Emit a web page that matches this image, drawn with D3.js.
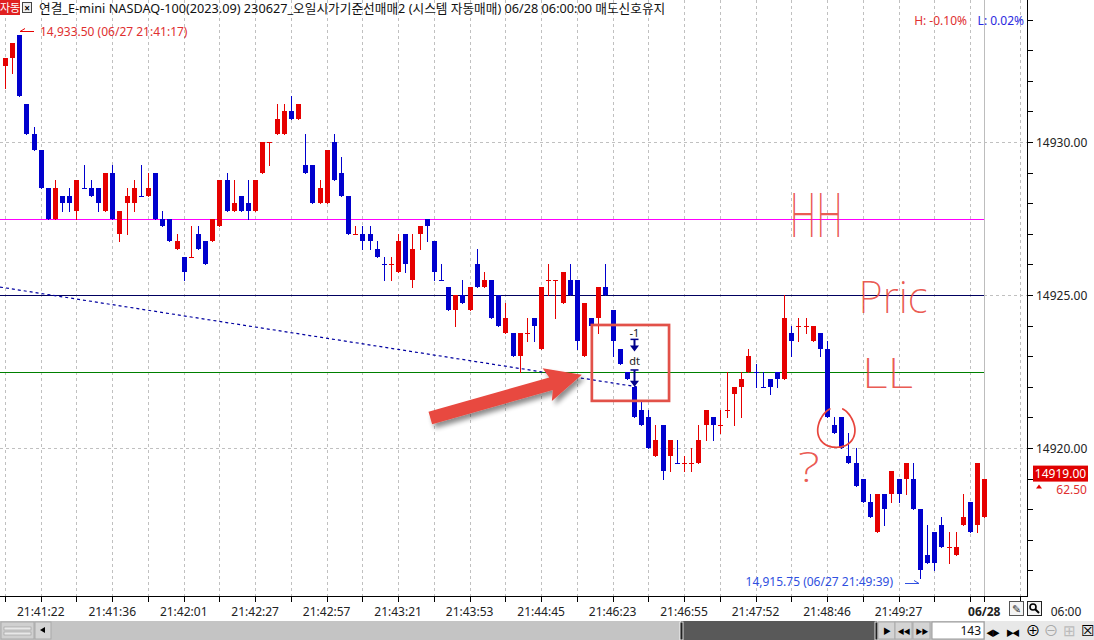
<!DOCTYPE html>
<html><head><meta charset="utf-8">
<script src="https://cdn.jsdelivr.net/npm/d3@7"></script>
<style>
body{margin:0;background:#fff}
svg{display:block}
text{font-family:"Noto Sans","Noto Sans CJK KR",sans-serif}
</style>
</head><body>
<svg id="c" width="1094" height="640"></svg>
<script>
// ---------------- DATA ----------------
const opens = [14932.5,14932.75,14933.5,14931.25,14930.25,14929.75,14928.5,14927.5,14928.25,14928.25,
14927.75,14928.5,14928.5,14928.5,14927.75,14929.0,14927.0,14928.0,14928.0,14928.25,
14928.25,14929.0,14927.5,14927.5,14926.5,14926.25,14926.25,14927.0,14926.75,14926.75,
14927.25,14928.75,14927.75,14928.25,14928.0,14927.75,14929.0,14930.0,14930.25,14930.25,
14931.0,14930.75,14929.25,14929.25,14928.0,14928.0,14930.0,14929.0,14928.25,14927.0,
14927.0,14927.0,14926.5,14926.0,14926.0,14925.75,14927.0,14925.5,14927.0,14927.5,
14926.75,14925.5,14925.25,14924.5,14925.0,14924.5,14926.0,14925.25,14925.5,14925.0,
14923.75,14923.75,14923.0,14923.75,14924.25,14923.25,14925.5,14925.5,14924.75,14925.5,
14925.5,14923.0,14924.25,14924.25,14925.25,14924.5,14923.25,14922.5,14922.0,14921.25,
14921.0,14919.75,14920.75,14919.75,14919.5,14919.5,14919.5,14919.5,14920.75,14921.0,
14920.75,14921.25,14921.75,14922.0,14922.5,14922.5,14922.0,14922.25,14922.5,14922.25,
14923.75,14924.0,14924.0,14923.5,14923.75,14923.25,14920.75,14921.0,14919.75,14919.5,
14919.0,14918.25,14917.25,14918.5,14918.5,14919.0,14919.0,14919.0,14918.0,14916.5,
14917.25,14917.5,14916.75,14916.5,14917.5,14918.25,14917.5,14917.75];
const highs = [14932.75,14933.25,14933.5,14931.25,14930.5,14929.75,14928.5,14928.75,14928.25,14928.5,
14928.75,14929.25,14928.75,14928.5,14929.0,14929.25,14927.75,14928.5,14928.75,14929.25,
14929.0,14929.0,14927.75,14927.5,14927.0,14926.25,14927.25,14927.25,14926.75,14927.5,
14928.75,14929.0,14928.75,14928.25,14928.75,14928.75,14930.0,14930.0,14931.25,14931.25,
14931.5,14931.25,14930.25,14929.25,14928.75,14929.75,14930.25,14929.5,14928.25,14927.25,
14927.25,14927.25,14926.75,14926.25,14926.25,14927.0,14927.0,14927.0,14927.25,14927.5,
14926.75,14926.0,14925.25,14925.0,14925.5,14925.25,14926.5,14925.75,14925.5,14925.0,
14924.75,14923.75,14923.75,14924.25,14924.25,14925.25,14926.0,14925.5,14925.75,14926.0,
14925.5,14924.75,14924.25,14925.25,14926.0,14924.5,14923.25,14922.5,14922.0,14921.5,
14921.25,14920.75,14920.75,14920.25,14920.25,14919.75,14920.0,14920.75,14921.25,14921.0,
14921.25,14922.5,14922.0,14922.5,14923.25,14922.75,14922.5,14922.25,14922.5,14925.0,
14924.0,14924.25,14924.25,14924.0,14923.75,14923.5,14921.0,14921.0,14920.5,14920.0,
14919.0,14918.5,14918.5,14918.5,14919.25,14919.0,14919.5,14919.5,14918.0,14917.5,
14917.25,14917.75,14917.25,14917.25,14918.5,14918.25,14919.5,14919.0];
const lows = [14931.75,14932.25,14931.5,14930.25,14929.75,14928.5,14927.5,14927.5,14927.75,14927.75,
14927.5,14928.5,14928.25,14927.75,14927.75,14927.5,14926.75,14927.0,14927.75,14928.25,
14928.25,14927.5,14927.25,14926.75,14926.5,14925.5,14926.25,14926.5,14926.0,14926.75,
14927.25,14927.75,14927.75,14927.75,14927.5,14927.75,14929.0,14929.25,14930.25,14930.25,
14930.75,14930.75,14929.0,14928.0,14928.0,14928.0,14928.75,14928.25,14927.0,14927.0,
14926.5,14926.5,14926.25,14925.5,14925.5,14925.75,14925.75,14925.25,14926.5,14926.75,
14925.5,14925.5,14924.5,14924.0,14924.75,14924.5,14925.25,14925.25,14924.25,14924.0,
14923.75,14923.0,14922.5,14923.5,14923.5,14923.25,14925.0,14924.25,14924.75,14925.0,
14923.25,14923.0,14924.0,14923.75,14925.0,14923.0,14922.75,14922.25,14921.0,14920.75,
14920.0,14919.75,14919.0,14919.25,14919.5,14919.25,14919.25,14919.5,14920.25,14920.25,
14920.5,14921.0,14920.75,14921.0,14922.5,14922.0,14922.0,14921.75,14922.0,14922.25,
14923.0,14923.5,14923.75,14923.5,14923.0,14921.0,14920.5,14920.0,14919.5,14918.75,
14918.25,14917.75,14917.25,14917.5,14918.25,14918.25,14918.5,14918.0,14915.75,14916.25,
14916.0,14916.75,14916.25,14916.5,14917.5,14917.25,14917.25,14917.75];
const closes = [14932.75,14933.25,14931.5,14930.25,14929.75,14928.5,14927.5,14928.5,14928.0,14928.0,
14928.75,14928.5,14928.25,14928.0,14929.0,14927.5,14927.75,14928.25,14928.5,14928.25,
14928.5,14927.5,14927.25,14926.75,14926.75,14925.75,14926.25,14926.5,14926.0,14927.5,
14928.75,14927.75,14928.0,14927.75,14927.75,14928.75,14930.0,14930.0,14930.75,14931.0,
14930.75,14931.25,14929.0,14928.0,14928.5,14929.75,14928.75,14928.25,14927.0,14927.0,
14926.75,14926.75,14926.25,14926.0,14926.0,14926.75,14926.0,14926.5,14927.25,14927.25,
14925.75,14925.5,14924.5,14925.0,14924.75,14925.25,14925.25,14925.5,14924.25,14924.0,
14924.25,14923.0,14923.75,14923.75,14924.0,14925.25,14925.5,14925.5,14925.75,14925.0,
14923.5,14924.75,14924.0,14925.25,14925.0,14923.5,14922.75,14922.25,14921.0,14920.75,
14920.0,14920.25,14919.25,14920.25,14919.5,14919.5,14919.5,14920.25,14921.25,14920.75,
14920.75,14921.25,14922.0,14922.25,14923.0,14922.5,14922.0,14922.0,14922.25,14924.25,
14923.5,14924.0,14924.0,14924.0,14923.25,14921.0,14920.5,14920.0,14919.5,14918.75,
14918.25,14917.75,14918.5,14918.0,14919.25,14918.5,14919.5,14918.0,14916.0,14916.25,
14916.25,14916.75,14916.75,14916.75,14917.75,14917.25,14919.5,14919.0];
// flat (open == close) bars that the platform painted as up bars
const dojiUp = [26,37,49,54,73,76,77,95,96,100,101,111,112,132];

const priceTicks = d3.range(14914, 14935, 1);
const priceLabels = [14920, 14925, 14930];
const gridIdx = d3.range(0, 136, 5).concat([142]);
const dateIdx = 137;
const timeIdx = [5,15,25,35,45,55,65,75,85,95,105,115,125];
const timeLabels = ["21:41:22","21:41:36","21:42:01","21:42:27","21:42:57","21:43:21","21:43:53",
                    "21:44:45","21:46:23","21:46:55","21:47:52","21:48:46","21:49:27"];
const levelPrices = [14927.5, 14925.0, 14922.5];
const trendIdx = [-0.7, 88.4];
const trendPrice = [14925.26, 14922.0];
const hiIdx = 2, hiPrice = 14933.5, hiText = "14,933.50 (06/27 21:41:17)";
const loIdx = 128, loPrice = 14915.75, loText = "14,915.75 (06/27 21:49:39)";
const lastPrice = 14919.00, lastChange = "62.50";
const signalIdx = 88;
const overview = [1,1,1.5,2,2,1.5,3,5,6,7,8,9,10,10.5,10,9,8,7,6];

// ---------------- COLORS / LAYOUT ----------------
const UP = "#e60000", DOWN = "#0000cd";
const levelColors = ["#ff00ff", "#000060", "#008000"];
const PEN = "#e8453c";
const plotR = 1027, plotB = 596;

const svg = d3.select("#c");
svg.append("rect").attr("width",1094).attr("height",640).attr("fill","#fff");

const x = d3.scaleLinear().domain([0,143]).range([5, 5 + 7.148*143]);
const y = d3.scaleLinear().domain([14920,14930]).range([448,142]);

const defs = svg.append("defs");
defs.append("clipPath").attr("id","plot").append("rect").attr("x",0).attr("y",0).attr("width",plotR).attr("height",plotB);
const sh = defs.append("filter").attr("id","shadow").attr("x","-20%").attr("y","-50%").attr("width","140%").attr("height","200%");
sh.append("feGaussianBlur").attr("in","SourceAlpha").attr("stdDeviation",2.5).attr("result","b");
sh.append("feOffset").attr("in","b").attr("dx",3).attr("dy",4).attr("result","o");
sh.append("feComponentTransfer").attr("in","o").attr("result","o2").append("feFuncA").attr("type","linear").attr("slope",0.45);
const mg = sh.append("feMerge"); mg.append("feMergeNode").attr("in","o2"); mg.append("feMergeNode").attr("in","SourceGraphic");

const plot = svg.append("g").attr("clip-path","url(#plot)");

// grid
plot.selectAll("line.vg").data(gridIdx).join("line").attr("class","vg")
  .attr("x1",d=>Math.round(x(d))+0.5).attr("x2",d=>Math.round(x(d))+0.5)
  .attr("y1",0).attr("y2",plotB).attr("stroke","#c0c0c0").attr("stroke-dasharray","3,3");
plot.append("line").attr("x1",Math.round(x(dateIdx))+0.5).attr("x2",Math.round(x(dateIdx))+0.5)
  .attr("y1",0).attr("y2",plotB).attr("stroke","#bdbdbd");
plot.selectAll("line.hg").data(priceLabels).join("line").attr("class","hg")
  .attr("x1",0).attr("x2",plotR).attr("y1",d=>Math.round(y(d))+0.5).attr("y2",d=>Math.round(y(d))+0.5)
  .attr("stroke","#c0c0c0").attr("stroke-dasharray","3,3");

// level lines
plot.selectAll("line.lv").data(levelPrices).join("line").attr("class","lv")
  .attr("x1",0).attr("x2",Math.round(x(dateIdx)))
  .attr("y1",d=>Math.round(y(d))+0.5).attr("y2",d=>Math.round(y(d))+0.5)
  .attr("stroke",(d,i)=>levelColors[i]).attr("stroke-width",1.2);

// trend line
plot.append("line")
  .attr("x1",x(trendIdx[0])).attr("y1",y(trendPrice[0]))
  .attr("x2",x(trendIdx[1])).attr("y2",y(trendPrice[1]))
  .attr("stroke","#0000a0").attr("stroke-width",1.2).attr("stroke-dasharray","3,3");

// candles
const idx = d3.range(opens.length);
const isUp = i => closes[i] > opens[i] || (closes[i] === opens[i] && dojiUp.includes(i));
const cg = plot.append("g");
cg.selectAll("line.w").data(idx).join("line").attr("class","w")
  .attr("x1",i=>Math.round(x(i))+0.5).attr("x2",i=>Math.round(x(i))+0.5)
  .attr("y1",i=>Math.round(y(highs[i]))).attr("y2",i=>Math.round(y(lows[i]))+1)
  .attr("stroke",i=>isUp(i)?UP:DOWN).attr("stroke-width",1);
cg.selectAll("rect.b").data(idx).join("rect").attr("class","b")
  .attr("x",i=>Math.round(x(i))-2).attr("width",5)
  .attr("y",i=>Math.round(y(Math.max(opens[i],closes[i]))))
  .attr("height",i=>Math.max(1, Math.round(y(Math.min(opens[i],closes[i])))-Math.round(y(Math.max(opens[i],closes[i])))))
  .attr("fill",i=>isUp(i)?UP:DOWN);

// high / low markers
const hx = Math.round(x(hiIdx)), hy = Math.round(y(hiPrice)) - 3.5;
plot.append("path").attr("d",`M${hx+1},${hy}L${hx+15},${hy}M${hx+1},${hy}L${hx+6},${hy-3}`)
  .attr("stroke",UP).attr("fill","none");
plot.append("text").attr("x",hx+21).attr("y",hy+4).attr("font-size",12).attr("fill","#e03030").text(hiText);
const lx = Math.round(x(loIdx)), ly = Math.round(y(loPrice)) + 5.5;
plot.append("path").attr("d",`M${lx-15},${ly}L${lx-1},${ly}M${lx-1},${ly}L${lx-6},${ly-3}`)
  .attr("stroke","#3050e0").attr("fill","none");
plot.append("text").attr("x",lx-27).attr("y",ly+2).attr("text-anchor","end").attr("font-size",12).attr("fill","#3050e0").text(loText);

// signal markers
const sx = Math.round(x(signalIdx))+0.5;
plot.append("text").attr("x",sx).attr("y",y(14923.62)).attr("text-anchor","middle").attr("font-size",11).attr("fill","#222").text("-1");
plot.append("text").attr("x",sx).attr("y",y(14922.72)).attr("text-anchor","middle").attr("font-size",11).attr("fill","#222").text("dt");
function downArrow(p1,p2){
  const y1=y(p1), y2=y(p2);
  plot.append("line").attr("x1",sx).attr("x2",sx).attr("y1",y1).attr("y2",y2-4).attr("stroke","#00008b").attr("stroke-width",2);
  plot.append("path").attr("d",`M${sx-4.5},${y2-6}L${sx+4.5},${y2-6}L${sx},${y2}Z`).attr("fill","#00008b");
  plot.append("line").attr("x1",sx-4).attr("x2",sx+4).attr("y1",y1).attr("y2",y1).attr("stroke","#00008b").attr("stroke-width",1.5);
}
downArrow(14923.55, 14923.15);
downArrow(14922.55, 14922.0);

// red box
plot.append("rect")
  .attr("x",x(82.1)).attr("y",y(14924.02)).attr("width",x(92.9)-x(82.1)).attr("height",y(14921.54)-y(14924.02))
  .attr("fill","none").attr("stroke","#e25149").attr("stroke-width",2.7);

// big red arrow
(function(){
  const tx=x(59.5), ty=y(14920.98), hx2=x(80.7), hy2=y(14922.39);
  const ang = Math.atan2(hy2-ty, hx2-tx), L = Math.hypot(hx2-tx, hy2-ty);
  const sw=6.5, hw=17, hl=32;
  const pts = [[0,-sw],[L-hl,-sw],[L-hl-4,-hw],[L,0],[L-hl-4,hw],[L-hl,sw],[0,sw]];
  const c=Math.cos(ang), s=Math.sin(ang);
  const P = pts.map(([a,b])=>[tx+a*c-b*s, ty+a*s+b*c]);
  plot.append("path").attr("d","M"+P.map(p=>p.join(",")).join("L")+"Z")
    .attr("fill","#e8483f").attr("filter","url(#shadow)");
})();

// hand-drawn annotations
const pen = plot.append("g").attr("fill",PEN).attr("fill-opacity",0.9)
  .attr("font-family","'DejaVu Sans ExtraLight','DejaVu Sans',sans-serif").attr("font-weight",200);
pen.append("text").attr("x",x(109.8)).attr("y",y(14926.9)).attr("font-size",60)
  .attr("textLength",53).attr("lengthAdjust","spacingAndGlyphs").text("HH");
pen.append("text").attr("x",x(119.4)).attr("y",y(14924.4)).attr("font-size",45)
  .attr("textLength",69).attr("lengthAdjust","spacingAndGlyphs").text("Pric");
pen.append("text").attr("x",x(119.9)).attr("y",y(14921.95)).attr("font-size",42)
  .attr("textLength",51).attr("lengthAdjust","spacingAndGlyphs").text("LL");
pen.append("text").attr("x",x(110.9)).attr("y",y(14918.9)).attr("font-size",42)
  .attr("textLength",22).attr("lengthAdjust","spacingAndGlyphs").text("?");
// hand-drawn circle around bars 116-117
(function(){
  const cx = x(116.3), cy = y(14920.65), rx = 18.5, ry = 20;
  const pts = d3.range(-70, 255, 8).map(t => {
    const a = t*Math.PI/180, k = 1 + 0.04*Math.sin(a*3);
    return [cx + rx*k*Math.cos(a), cy + ry*k*Math.sin(a)];
  });
  plot.append("path").attr("d", d3.line().curve(d3.curveCatmullRom)(pts))
    .attr("fill","none").attr("stroke",PEN).attr("stroke-width",1.7).attr("stroke-linecap","round");
})();

// ---------------- AXES ----------------
const ax = svg.append("g");
ax.append("line").attr("x1",0).attr("x2",plotR).attr("y1",plotB+0.5).attr("y2",plotB+0.5).attr("stroke","#000");
ax.append("line").attr("x1",plotR+0.5).attr("x2",plotR+0.5).attr("y1",0).attr("y2",plotB+1).attr("stroke","#000");
ax.selectAll("line.xt").data(gridIdx.concat([dateIdx])).join("line").attr("class","xt")
  .attr("x1",d=>Math.round(x(d))+0.5).attr("x2",d=>Math.round(x(d))+0.5)
  .attr("y1",plotB).attr("y2",plotB+6).attr("stroke","#000");
ax.selectAll("text.xl").data(timeIdx).join("text").attr("class","xl")
  .attr("x",d=>x(d)).attr("y",616).attr("text-anchor","middle").attr("font-size",12).attr("fill","#222")
  .text((d,i)=>timeLabels[i]);
ax.append("text").attr("x",x(dateIdx)).attr("y",616).attr("text-anchor","middle").attr("font-size",12)
  .attr("font-weight","bold").attr("fill","#222").text("06/28");
ax.append("text").attr("x",1066).attr("y",616).attr("text-anchor","middle").attr("font-size",12).attr("fill","#222").text("06:00");
ax.selectAll("line.yt").data(priceTicks.filter(p=>y(p)>2 && y(p)<plotB-2)).join("line").attr("class","yt")
  .attr("x1",plotR).attr("x2",plotR+6).attr("y1",d=>Math.round(y(d))+0.5).attr("y2",d=>Math.round(y(d))+0.5).attr("stroke","#000");
ax.selectAll("text.yl").data(priceLabels).join("text").attr("class","yl")
  .attr("x",1036).attr("y",d=>y(d)+4.5).attr("font-size",12).attr("fill","#222").text(d=>d.toFixed(2));

// last price tag
const ly2 = y(lastPrice);
ax.append("rect").attr("x",1033).attr("y",ly2-13).attr("width",55).attr("height",16).attr("fill","#e00000");
ax.append("text").attr("x",1060.5).attr("y",ly2-1).attr("text-anchor","middle").attr("font-size",12).attr("fill","#fff").text(lastPrice.toFixed(2));
ax.append("path").attr("d",`M1036,${ly2+10}L1042,${ly2+10}L1039,${ly2+6}Z`).attr("fill","#e00000");
ax.append("text").attr("x",1087).attr("y",ly2+15).attr("text-anchor","end").attr("font-size",12).attr("fill","#e03030").text(lastChange);

// top-right H / L
svg.append("text").attr("x",967).attr("y",25).attr("text-anchor","end").attr("font-size",12).attr("fill","#e03030").text("H: -0.10%");
svg.append("text").attr("x",1024).attr("y",25).attr("text-anchor","end").attr("font-size",12).attr("fill","#2a2ae0").text("L: 0.02%");

// title bar
svg.append("rect").attr("x",0).attr("y",0).attr("width",20).attr("height",15).attr("fill","#e02020");
svg.append("text").attr("x",10).attr("y",12).attr("text-anchor","middle").attr("font-size",11)
  .attr("font-family","'Noto Sans CJK KR'").attr("fill","#fff").text("자동");
svg.append("rect").attr("x",22.5).attr("y",2.5).attr("width",9).attr("height",10).attr("fill","#eee").attr("stroke","#444");
svg.append("text").attr("x",27).attr("y",11.5).attr("text-anchor","middle").attr("font-size",10).attr("font-weight","bold").attr("fill","#000").text("×");
svg.append("text").attr("x",39).attr("y",13).attr("font-size",12.7).attr("font-family","'Noto Sans CJK KR'").attr("fill","#111")
  .text("연결_E-mini NASDAQ-100(2023.09) 230627_오일시가기준선매매2 (시스템 자동매매) 06/28 06:00:00 매도신호유지");

// ---------------- SCROLL BAR ----------------
const sb = svg.append("g");
sb.append("rect").attr("x",0).attr("y",621).attr("width",1094).attr("height",19).attr("fill","#c4c4c4");
sb.append("rect").attr("x",1).attr("y",622).attr("width",33).attr("height",17).attr("fill","#d0d0d0").attr("stroke","#aaa");
sb.append("rect").attr("x",4).attr("y",627).attr("width",27).attr("height",3).attr("fill","#e8e8e8").attr("stroke","#999").attr("stroke-width",0.6);
sb.append("rect").attr("x",4).attr("y",632).attr("width",27).attr("height",3).attr("fill","#e8e8e8").attr("stroke","#999").attr("stroke-width",0.6);
sb.append("rect").attr("x",35).attr("y",622).attr("width",16).attr("height",17).attr("fill","#d4d4d4").attr("stroke","#aaa");
sb.append("path").attr("d","M40,630L45,627L45,633Z").attr("fill","#000");
const ox = d3.scaleLinear().domain([0, overview.length-1]).range([51, 869]);
sb.append("rect").attr("x",681).attr("y",621).attr("width",196).attr("height",19).attr("fill","#595959");
const area = d3.area().x((d,i)=>ox(i)).y0(640).y1(d=>637-d).curveStep;
sb.append("path").datum(overview).attr("d",area).attr("fill","#5a5a5a");
sb.append("clipPath").attr("id","sel").append("rect").attr("x",681).attr("y",621).attr("width",196).attr("height",19);
sb.append("path").datum(overview).attr("d",area).attr("fill","#303030").attr("clip-path","url(#sel)");
[681,876].forEach(h=>sb.append("rect").attr("x",h-1).attr("y",622).attr("width",3).attr("height",18).attr("fill","#222").attr("stroke","#fff").attr("stroke-width",0.8));
[[878,"▶"],[895,"◀◀"],[913,"▶▶"]].forEach(([bx,t])=>{
  sb.append("rect").attr("x",bx).attr("y",622).attr("width",17).attr("height",17).attr("fill","#d4d4d4").attr("stroke","#aaa");
  sb.append("text").attr("x",bx+8.5).attr("y",634).attr("text-anchor","middle").attr("font-size",t.length>1?7:8).attr("letter-spacing",-1).attr("fill","#000").attr("font-family","DejaVu Sans").text(t);
});
sb.append("rect").attr("x",932).attr("y",622).attr("width",52).attr("height",17).attr("fill","#fff").attr("stroke","#999");
sb.append("text").attr("x",981).attr("y",635).attr("text-anchor","end").attr("font-size",12).attr("fill","#111").text("143");
sb.append("rect").attr("x",985).attr("y",621).attr("width",109).attr("height",19).attr("fill","#e8e8e8");
[[992,"◀▶","#000"],[1012,"▶◀","#000"],[1032,"⊕","#000"],[1050,"⊖","#aaa"],[1068,"⊞","#bbb"],[1086,"☒","#000"]].forEach(([bx,t,c])=>{
  sb.append("text").attr("x",bx).attr("y",636).attr("text-anchor","middle").attr("font-size",t.length>1?8:15)
    .attr("letter-spacing",-2).attr("fill",c).attr("font-family","DejaVu Sans").text(t);
});
// small tool icons
sb.append("rect").attr("x",1009.5).attr("y",601.5).attr("width",14).attr("height",14).attr("fill","#f4f4f4").attr("stroke","#555");
sb.append("text").attr("x",1016.5).attr("y",613).attr("text-anchor","middle").attr("font-size",11).attr("font-family","DejaVu Sans").attr("fill","#333").text("✎");
sb.append("rect").attr("x",1027.5).attr("y",601.5).attr("width",14).attr("height",14).attr("fill","#f4f4f4").attr("stroke","#222");
sb.append("circle").attr("cx",1033).attr("cy",607).attr("r",3).attr("fill","none").attr("stroke","#000").attr("stroke-width",1.6);
sb.append("line").attr("x1",1035).attr("y1",609).attr("x2",1039).attr("y2",613).attr("stroke","#000").attr("stroke-width",2);
</script>
</body></html>
